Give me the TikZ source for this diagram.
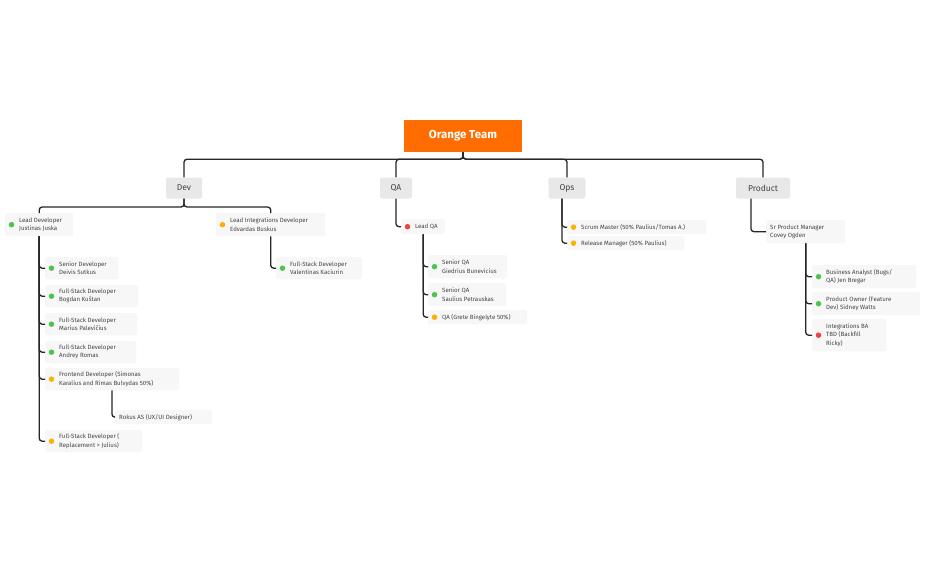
\documentclass[tikz,border=0pt]{standalone}
\usepackage{fontspec}
\setmainfont{Fira Sans}
\begin{document}
\definecolor{gr}{HTML}{4CC54C}
\definecolor{og}{HTML}{FFB000}
\definecolor{rd}{HTML}{F04040}
\definecolor{tx}{HTML}{444444}
\tikzset{
 box/.style={draw=none,fill=black!3,rounded corners=2pt,inner sep=0pt},
 dot/.style={circle,inner sep=0pt,minimum size=5.5pt,draw=none},
 txt/.style={inner sep=0pt,align=left,text=tx,font=\fontsize{6.1}{8.3}\selectfont},
 cat/.style={fill=black!9,rounded corners=2pt,inner sep=0pt,text=tx,font=\fontsize{8.5}{10}\selectfont},
 conn/.style={draw=black!85,line width=1.3pt,rounded corners=3pt},
}
\newcommand\mem[7]{%
 \node[box,minimum width={#4-#2},minimum height={#5-#3},anchor=north west] (#1) at (#2,#3) {};
 \node[dot,fill=#6] (#1d) at ([xshift=6.5]#1.west) {};
 \node[txt,anchor=west] (#1t) at ([xshift=14]#1.west) {#7};}
\newcommand\memn[6]{%
 \node[box,minimum width={#4-#2},minimum height={#5-#3},anchor=north west] (#1) at (#2,#3) {};
 \node[txt,anchor=west] (#1t) at ([xshift=4]#1.west) {#6};}
\begin{tikzpicture}[x=1pt,y=-1pt]
\useasboundingbox[fill=white] (0,0) rectangle (926,573);
\node[fill={rgb,255:red,255;green,109;blue,0},text=white,font=\bfseries\fontsize{11.5}{13}\selectfont,minimum width=118,minimum height=32,inner sep=0pt] (root) at (463,136) {Orange Team};
\node[cat,minimum width=36,minimum height=21] (dev) at (184,188) {Dev};
\node[cat,minimum width=32,minimum height=21] (qa) at (396,188) {QA};
\node[cat,minimum width=37,minimum height=21] (ops) at (567,188) {Ops};
\node[cat,minimum width=54,minimum height=21] (prod) at (763,188) {Product};
\foreach \n in {dev,qa,ops,prod}{\draw[conn] (\n.north) |- ([yshift=-7]root.south) -- (root.south);}

\mem{ld}{5}{213}{73}{236}{gr}{Lead Developer\\Justinas Juska}
\mem{li}{216}{213}{325}{236}{og}{Lead Integrations Developer\\Edvardas Buskus}
\draw[conn] (dev.south) -- (dev.south |- 0,207) -| (ld.north);
\draw[conn] (dev.south) -- (dev.south |- 0,207) -| (li.north);

\mem{sd}{45}{257}{118}{279}{gr}{Senior Developer\\Deivis Sutkus}
\mem{bk}{45}{285}{138}{307}{gr}{Full-Stack Developer\\Bogdan Kuštan}
\mem{mp}{45}{313}{137}{335}{gr}{Full-Stack Developer\\Marius Palevičius}
\mem{ar}{45}{341}{136}{363}{gr}{Full-Stack Developer\\Andrey Romas}
\mem{fe}{45}{368}{179}{390}{og}{Frontend Developer (Simonas\\Karalius and Rimas Bulvydas 50\%)}
\memn{rk}{115}{410}{212}{424}{Rokus AS (UX/UI Designer)}
\mem{rp}{45}{430}{142}{452}{og}{Full-Stack Developer (\\Replacement > Julius)}
\foreach \c in {sd,bk,mp,ar,fe,rp}{\draw[conn] (ld.south) |- (\c.west);}
\draw[conn] (fe.south -| 112,0) |- (rk.west);
\mem{vk}{276}{257}{362}{279}{gr}{Full-Stack Developer\\Valentinas Kaciurin}
\draw[conn] (li.south) |- (vk.west);

\mem{lq}{401}{219}{445}{234}{rd}{Lead QA}
\draw[conn] (qa.south) |- (lq.west);
\mem{gb}{428}{255}{507}{278}{gr}{Senior QA\\Giedrius Bunevicius}
\mem{sp}{428}{283}{506}{306}{gr}{Senior QA\\Saulius Petrauskas}
\mem{gq}{428}{310}{527}{324}{og}{QA (Grete Bingelyte 50\%)}
\foreach \c in {gb,sp,gq}{\draw[conn] (lq.south) |- (\c.west);}

\mem{sm}{567}{220}{706}{234}{og}{Scrum Master (50\% Paulius/Tomas A.)}
\mem{rm}{567}{236}{684}{250}{og}{Release Manager (50\% Paulius)}
\foreach \c in {sm,rm}{\draw[conn] (ops.south -| 562,0) |- (\c.west);}

\memn{pm}{766}{220}{845}{243}{Sr Product Manager\\Covey Ogden}
\draw[conn] (prod.south -| 751,0) |- (pm.west);
\mem{ba}{812}{265}{916}{288}{gr}{Business Analyst (Bugs/\\QA) Jen Bregar}
\mem{po}{812}{292}{920}{315}{gr}{Product Owner (Feature\\Dev) Sidney Watts}
\mem{ib}{812}{319}{886}{351}{rd}{Integrations BA\\TBD (Backfill\\Ricky)}
\foreach \c in {ba,po,ib}{\draw[conn] (pm.south) |- (\c.west);}
\end{tikzpicture}
\end{document}
